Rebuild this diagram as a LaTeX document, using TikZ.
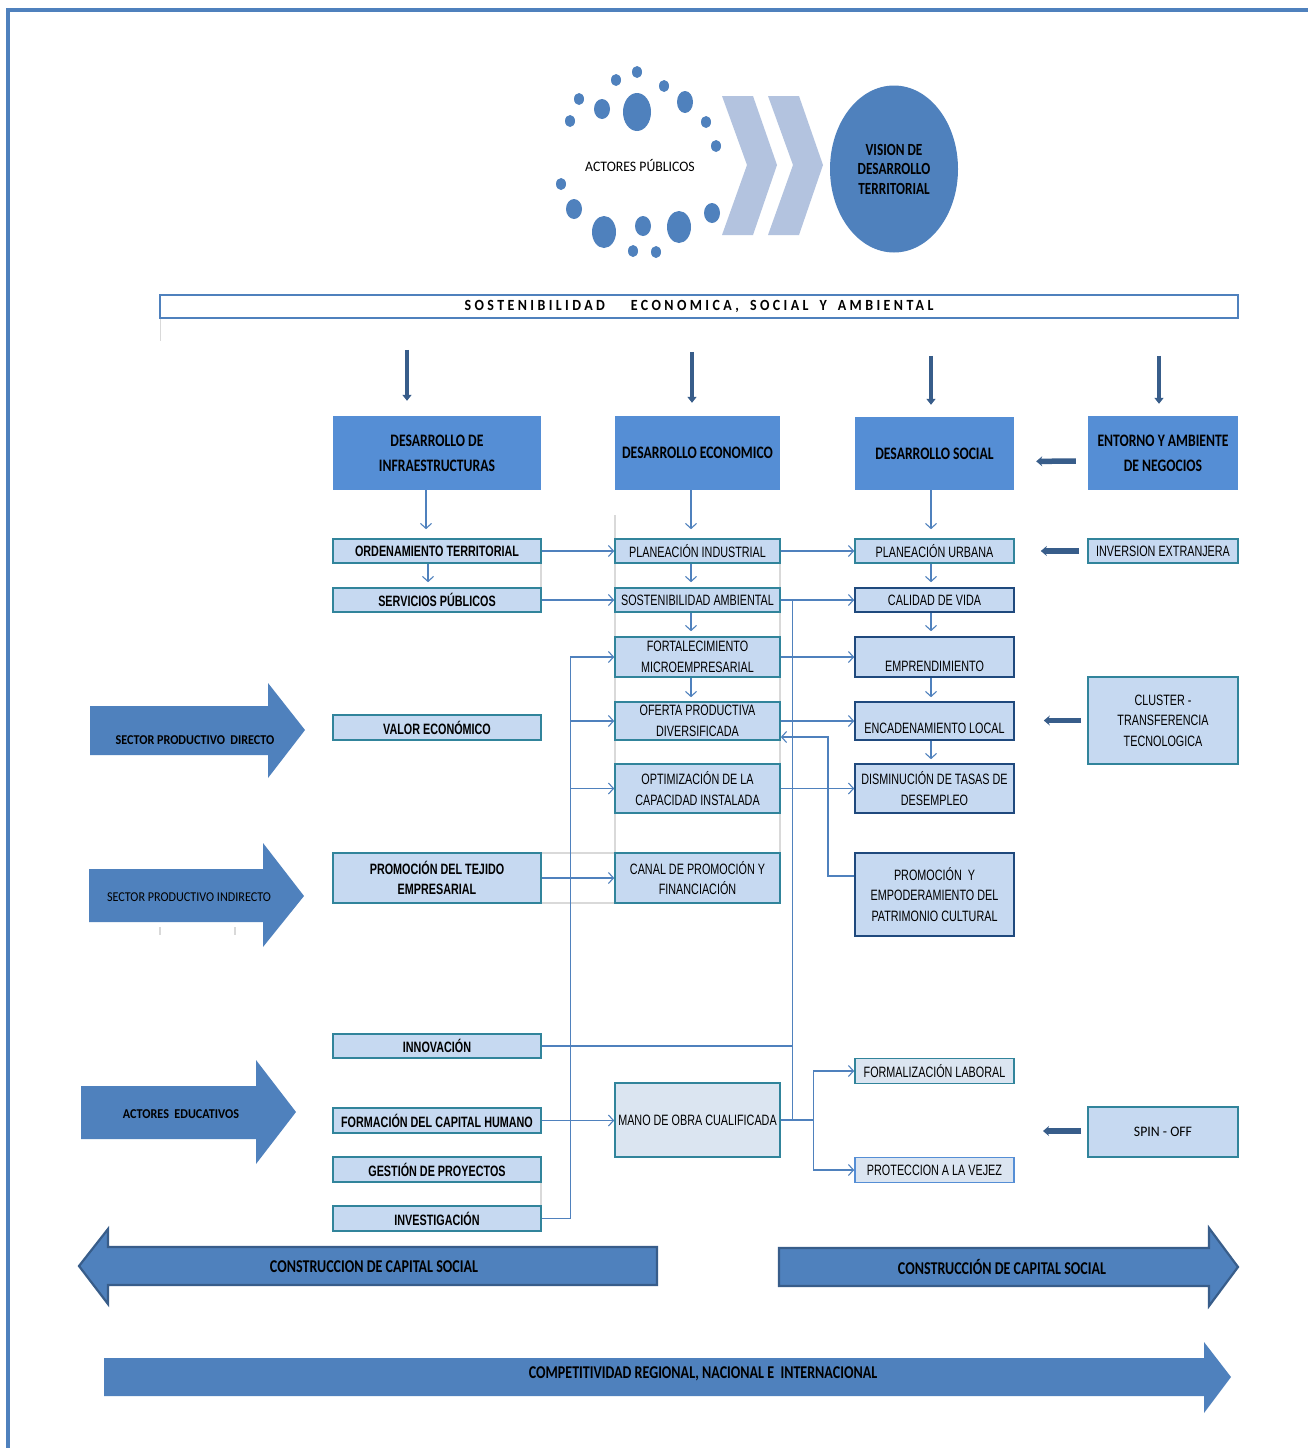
\documentclass[tikz,border=0pt]{standalone}
\usepackage{fontspec}
\usetikzlibrary{arrows.meta,calc,shapes.geometric}
\setmainfont{Liberation Sans}
\newfontfamily\hdfont[FakeStretch=0.78]{Carlito}
\newfontfamily\arfont[FakeStretch=0.9]{Carlito}
\newfontfamily\acfont[FakeStretch=0.95]{Carlito}
\newfontfamily\bxfont[FakeStretch=0.72]{Liberation Sans}
\newfontfamily\spfont[FakeStretch=0.9,LetterSpace=22]{Carlito}
\definecolor{accent}{HTML}{4F81BD}
\definecolor{hdrfill}{HTML}{558ED5}
\definecolor{lightfill}{HTML}{C6D9F1}
\definecolor{palefill}{HTML}{DBE5F1}
\definecolor{tealb}{HTML}{31849B}
\definecolor{navyb}{HTML}{1F497D}
\definecolor{darkarr}{HTML}{385D8A}
\definecolor{chev}{HTML}{B3C3DF}
\definecolor{gridgray}{HTML}{D9D9D9}
\tikzset{
  hdr/.style={rectangle, fill=hdrfill, inner sep=0pt, align=center,
    font=\hdfont\bfseries\fontsize{17.5}{25}\selectfont},
  bx/.style={rectangle, draw=tealb, fill=lightfill, line width=1.6pt, inner sep=0pt, align=center,
    font=\bxfont\fontsize{15}{20.5}\selectfont},
  bxb/.style={bx, font=\bxfont\bfseries\fontsize{15}{20.5}\selectfont},
  wa/.style={minimum width=208pt},
  wb/.style={minimum width=165pt},
  wc/.style={minimum width=159pt},
  wd/.style={minimum width=150pt},
  con/.style={draw=accent, line width=1.1pt},
  ar/.style={con, -{Straight Barb[length=5pt,width=11pt]}},
  dk/.style={draw=darkarr, line width=5.5pt, -{Stealth[length=6pt,width=10pt]}},
  dkd/.style={draw=darkarr, line width=3.5pt, -{Triangle[length=6pt,width=9pt]}},
  gline/.style={draw=gridgray, line width=1.2pt},
  dot/.style={fill=accent},
  blk/.style={fill=accent},
  blkb/.style={fill=accent, draw=darkarr, line width=2.2pt},
  lbl/.style={inner sep=0pt, align=center}
}
\begin{document}
\begin{tikzpicture}[x=1pt,y=-1pt]
\useasboundingbox (0,0) rectangle (1308,1448);
\fill[white] (0,0) rectangle (1308,1448);
% outer frame
\draw[accent, line width=4pt] (8,1448) -- (8,10) -- (1308,10);

% ===== top: actors and vision =====
\foreach \px/\py/\rx/\ry in {637/72/5/6, 616/80/5/6, 664/86/5/6, 579/99/5/6, 602/109/8/10,
  637/112/14/19, 685/102/8/11, 570/121/5/6, 706/122/5/6, 716/146/5/6, 561/184/5/6,
  574/209/8/10, 604/232/12/16, 643/226/8/10, 679/227/12/16, 712/213/8/10, 633/251/5/6, 656/252/5/6}
  \fill[dot] (\px,\py) ellipse [x radius=\rx, y radius=\ry];
\node[lbl, font=\acfont\fontsize{14.5}{17}\selectfont] (actors) at (640,165) {ACTORES PÚBLICOS};
\fill[chev] (722,96) -- (753,96) -- (777,165) -- (753,235) -- (722,235) -- (747,165) -- cycle;
\fill[chev] (768,96) -- (799,96) -- (823,165) -- (799,235) -- (768,235) -- (793,165) -- cycle;
\node[ellipse, fill=accent, minimum width=128pt, minimum height=167pt, inner sep=0pt, align=center,
  font=\hdfont\bfseries\fontsize{17}{19.5}\selectfont] (vision) at (894,169)
  {VISION DE\\DESARROLLO\\TERRITORIAL};

% ===== sostenibilidad bar =====
\draw[gridgray, line width=1pt] (160,318) -- (160,341);
\node[draw=accent, line width=2pt, minimum width=1078pt, minimum height=23pt, inner sep=0pt,
  font=\spfont\bfseries\fontsize{15.5}{17}\selectfont] (bar) at (699,306.5)
  {SOSTENIBILIDAD\hspace{26pt}ECONOMICA,\hspace{11pt}SOCIAL\hspace{11pt}Y\hspace{11pt}AMBIENTAL};

% ===== grid artefacts =====
\draw[gline] (615,515) -- (615,903);
\draw[gline] (780,540) -- (780,903);
\draw[gline] (541,853) -- (615,853);
\draw[gline] (541,903) -- (615,903);
\draw[gline] (541,563) -- (541,588);
\draw[gline] (541,1182) -- (541,1206);
\draw[gline] (160,927) -- (160,935);
\draw[gline] (235,927) -- (235,935);

% ===== header boxes =====
\node[hdr, wa, minimum height=74pt] (infra) at (437,453) {DESARROLLO DE\\INFRAESTRUCTURAS};
\node[hdr, wb, minimum height=74pt] (econ) at (697.5,453) {DESARROLLO ECONOMICO};
\node[hdr, wc, minimum height=73pt] (soc) at (934.5,453.5) {DESARROLLO SOCIAL};
\node[hdr, wd, minimum height=74pt] (ent) at (1163,453) {ENTORNO Y AMBIENTE\\DE NEGOCIOS};

% down arrows from the bar
\draw[dkd] ($(infra.north)+(-30,-66)$) -- ($(infra.north)+(-30,-15)$);
\draw[dkd] ($(econ.north)+(-5.5,-64)$) -- ($(econ.north)+(-5.5,-13)$);
\draw[dkd] ($(soc.north)+(-3.5,-61)$) -- ($(soc.north)+(-3.5,-12)$);
\draw[dkd] ($(ent.north)+(-4,-60)$) -- ($(ent.north)+(-4,-12)$);

% ===== column 1 =====
\node[bxb, wa, minimum height=24pt] (ord) at (437,551) {ORDENAMIENTO TERRITORIAL};
\node[bxb, wa, minimum height=24pt] (serv) at (437,600) {SERVICIOS PÚBLICOS};
\node[bxb, wa, minimum height=25pt] (valor) at (437,727.5) {VALOR ECONÓMICO};
\node[bxb, wa, minimum height=50pt] (tej) at (437,878) {PROMOCIÓN DEL TEJIDO\\EMPRESARIAL};
\node[bxb, wa, minimum height=24pt] (innov) at (437,1046) {INNOVACIÓN};
\node[bxb, wa, minimum height=25pt] (form) at (437,1120.5) {FORMACIÓN DEL CAPITAL HUMANO};
\node[bxb, wa, minimum height=25pt] (gest) at (437,1169.5) {GESTIÓN DE PROYECTOS};
\node[bxb, wa, minimum height=25pt] (inv) at (437,1218.5) {INVESTIGACIÓN};

% ===== column 2 =====
\node[bx, wb, minimum height=24pt] (pind) at (697.5,551) {PLANEACIÓN INDUSTRIAL};
\node[bx, wb, minimum height=24pt] (sost) at (697.5,600) {SOSTENIBILIDAD AMBIENTAL};
\node[bx, wb, minimum height=40pt] (fort) at (697.5,657) {FORTALECIMIENTO\\MICROEMPRESARIAL};
\node[bx, wb, minimum height=38pt] (ofer) at (697.5,721) {OFERTA PRODUCTIVA\\DIVERSIFICADA};
\node[bx, wb, minimum height=49pt] (opt) at (697.5,788.5) {OPTIMIZACIÓN DE LA\\CAPACIDAD INSTALADA};
\node[bx, wb, minimum height=50pt] (canal) at (697.5,878) {CANAL DE PROMOCIÓN Y\\FINANCIACIÓN};
\node[bx, wb, minimum height=74pt, fill=palefill] (mano) at (697.5,1120) {MANO DE OBRA CUALIFICADA};

% ===== column 3 =====
\node[bx, wc, minimum height=24pt] (purb) at (934.5,551) {PLANEACIÓN URBANA};
\node[bx, wc, draw=navyb, minimum height=24pt] (cal) at (934.5,600) {CALIDAD DE VIDA};
\node[bx, wc, draw=navyb, minimum height=40pt] (emp) at (934.5,657)
  {\raisebox{-9pt}[\height][\depth]{EMPRENDIMIENTO}};
\node[bx, wc, draw=navyb, minimum height=38pt] (enc) at (934.5,721)
  {\raisebox{-7pt}[\height][\depth]{ENCADENAMIENTO LOCAL}};
\node[bx, wc, draw=navyb, minimum height=49pt] (dis) at (934.5,788.5) {DISMINUCIÓN DE TASAS DE\\DESEMPLEO};
\node[bx, wc, draw=navyb, minimum height=83pt] (pat) at (934.5,894.5)
  {PROMOCIÓN \ Y\\EMPODERAMIENTO DEL\\PATRIMONIO CULTURAL};
\node[bx, wc, fill=palefill, minimum height=25pt] (formal) at (934.5,1071) {FORMALIZACIÓN LABORAL};
\node[bx, wc, fill=palefill, draw=hdrfill, minimum height=25pt] (prot) at (934.5,1170) {PROTECCION A LA VEJEZ};

% ===== column 4 =====
\node[bx, wd, minimum height=24pt] (invx) at (1163,551) {INVERSION EXTRANJERA};
\node[bx, wd, minimum height=87pt] (clus) at (1163,720.5) {CLUSTER -\\TRANSFERENCIA\\TECNOLOGICA};
\node[bx, wd, minimum height=50pt, font=\acfont\fontsize{14.5}{17}\selectfont] (spin) at (1163,1132) {SPIN - OFF};

% ===== thick left arrows =====
\draw[dk, shorten <=12pt, shorten >=22pt] ([yshift=-8pt]ent.west) -- ([yshift=-8pt]soc.east);
\draw[dk, shorten <=8pt, shorten >=26pt] (invx.west) -- (purb.east);
\draw[dk, shorten <=6pt, shorten >=29pt] (clus.west) -- (clus.west -| enc.east);
\coordinate (spintip) at (1043,1131);
\draw[dk, shorten <=6pt] (spin.west |- spintip) -- (spintip);

% ===== connectors =====
% vertical chains
\draw[ar, shorten >=9pt] ([xshift=-11pt]infra.south) -- ([xshift=-11pt]ord.north);
\draw[ar, shorten >=5pt] ([xshift=-9pt]ord.south) -- ([xshift=-9pt]serv.north);
\draw[ar, shorten >=9pt] ([xshift=-6.5pt]econ.south) -- ([xshift=-6.5pt]pind.north);
\draw[ar, shorten >=5pt] ([xshift=-6.5pt]pind.south) -- ([xshift=-6.5pt]sost.north);
\draw[ar, shorten >=5pt] ([xshift=-6.5pt]sost.south) -- ([xshift=-6.5pt]fort.north);
\draw[ar, shorten >=4pt] ([xshift=-6.5pt]fort.south) -- ([xshift=-6.5pt]ofer.north);
\draw[ar, shorten >=9pt] ([xshift=-3.5pt]soc.south) -- ([xshift=-3.5pt]purb.north);
\draw[ar, shorten >=5pt] ([xshift=-3.5pt]purb.south) -- ([xshift=-3.5pt]cal.north);
\draw[ar, shorten >=5pt] ([xshift=-3.5pt]cal.south) -- ([xshift=-3.5pt]emp.north);
\draw[ar, shorten >=4pt] ([xshift=-3.5pt]emp.south) -- ([xshift=-3.5pt]enc.north);
\draw[ar, shorten >=4pt] ([xshift=-3.5pt]enc.south) -- ([xshift=-3.5pt]dis.north);
% column 1 -> column 2
\draw[ar] (ord.east) -- (pind.west);
\draw[ar] (serv.east) -- (sost.west);
\draw[ar] (tej.east) -- (canal.west);
\draw[ar] (form.east) -- (form.east -| mano.west);
% column 2 -> column 3
\draw[ar] (pind.east) -- (purb.west);
\draw[ar] (sost.east) -- (cal.west);
\draw[ar] (fort.east) -- (emp.west);
\draw[ar] (ofer.east) -- (enc.west);
\draw[ar] (opt.east) -- (dis.west);
% patrimonio back to oferta
\coordinate (patx) at (828,876);
\draw[ar] (pat.west |- patx) -- (patx) |- ([yshift=-16pt]ofer.east);
% investigacion bus
\coordinate (invbus) at ($(inv.east)+(29,0)$);
\draw[ar] (inv.east) -- (invbus) |- (fort.west);
\draw[ar] (invbus |- ofer.west) -- (ofer.west);
\draw[ar] (invbus |- opt.west) -- (opt.west);
% sostenibilidad / innovacion bus to mano de obra
\coordinate (sbus) at ($(sost.east)+(12,0)$);
\draw[con] (sbus) -- (sbus |- mano.east) -- (mano.east);
\draw[con] (innov.east) -- (sbus |- innov.east);
% mano de obra outputs
\coordinate (mbus) at ($(mano.east)+(33,0)$);
\draw[con] (mano.east) -- (mbus);
\draw[ar] (mbus) |- (formal.west);
\draw[ar] (mbus) |- (prot.west);

% ===== side block arrows =====
\fill[blk] (90,706) -- (268,706) -- (268,683) -- (305,730) -- (268,778) -- (268,755) -- (90,755) -- cycle;
\node[lbl, font=\arfont\bfseries\fontsize{13.5}{15}\selectfont] (spd) at (195,740) {SECTOR PRODUCTIVO \ DIRECTO};
\fill[blk] (89,869) -- (263,869) -- (263,843) -- (304,896) -- (263,947) -- (263,922) -- (89,922) -- cycle;
\node[lbl, font=\arfont\fontsize{13.5}{15}\selectfont] (spi) at (189,897) {SECTOR PRODUCTIVO INDIRECTO};
\fill[blk] (81,1086) -- (256,1086) -- (256,1060) -- (296,1112) -- (256,1164) -- (256,1139) -- (81,1139) -- cycle;
\node[lbl, font=\arfont\bfseries\fontsize{13.5}{15}\selectfont] (aed) at (181,1114) {ACTORES \ EDUCATIVOS};

% ===== bottom arrows =====
\filldraw[blkb] (79,1266) -- (108,1229) -- (108,1247) -- (657,1247) -- (657,1285) -- (108,1285) -- (108,1304) -- cycle;
\node[lbl, font=\hdfont\bfseries\fontsize{18}{19}\selectfont] (ccsl) at (374,1267) {CONSTRUCCION DE CAPITAL SOCIAL};
\filldraw[blkb] (779,1248) -- (1209,1248) -- (1209,1228) -- (1238,1267) -- (1209,1306) -- (1209,1286) -- (779,1286) -- cycle;
\node[lbl, font=\hdfont\bfseries\fontsize{18}{19}\selectfont] (ccsr) at (1002,1267) {CONSTRUCCIÓN DE CAPITAL SOCIAL};
\fill[blk] (104,1358) -- (1204,1358) -- (1204,1342) -- (1231,1377) -- (1204,1413) -- (1204,1396) -- (104,1396) -- cycle;
\node[lbl, font=\hdfont\bfseries\fontsize{18}{19}\selectfont] (comp) at (703,1374) {COMPETITIVIDAD REGIONAL, NACIONAL E \ INTERNACIONAL};
\end{tikzpicture}
\end{document}
